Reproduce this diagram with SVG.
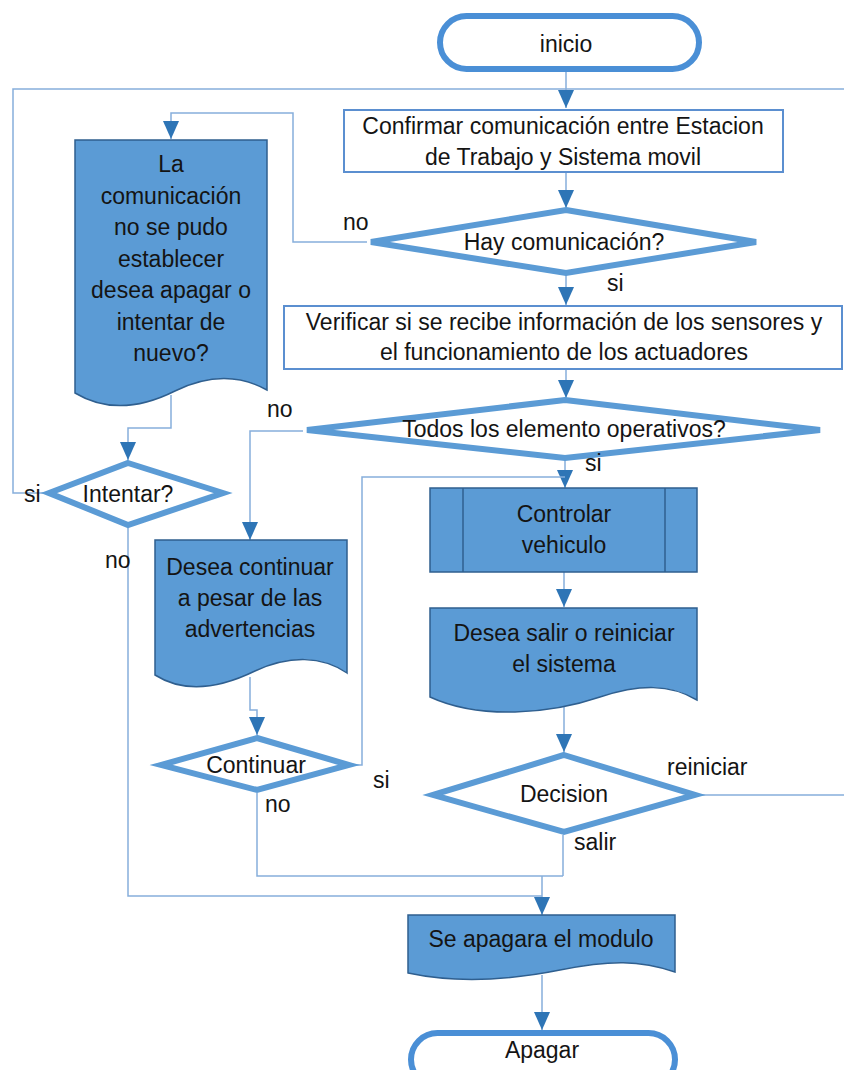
<svg xmlns="http://www.w3.org/2000/svg" width="844" height="1070" viewBox="0 0 844 1070">
  <defs>
    <marker id="arrow" markerUnits="userSpaceOnUse" markerWidth="18" markerHeight="16" viewBox="0 0 18 16" refX="18" refY="8" orient="auto">
      <path d="M0,0 L18,8 L0,16 Z" fill="#2e75b6"/>
    </marker>
    <style>
      text { font-family: "Liberation Sans", Arial, sans-serif; font-size: 23px; fill: #141414; text-anchor: middle; }
      text.lbl { text-anchor: start; }
      .term { fill: #ffffff; stroke: #4a8fd6; stroke-width: 6; }
      .proc { fill: #ffffff; stroke: #5b8fd0; stroke-width: 2; }
      .dec { fill: #ffffff; stroke: #5b9bd5; stroke-width: 6; stroke-linejoin: miter; }
      .doc { fill: #5b9bd5; stroke: #2f5f8f; stroke-width: 1.5; }
      .sub { fill: #5b9bd5; stroke: #2f5f8f; stroke-width: 1.5; }
      .conn { fill: none; stroke: #86aedb; stroke-width: 1.5; }
      .conn.end { marker-end: url(#arrow); }
    </style>
  </defs>

  <rect width="844" height="1070" fill="#ffffff"/>

  <!-- connectors -->
  <g id="connectors">
    <path class="conn end" d="M566,72 V108"/>
    <path class="conn end" d="M566,173 V208"/>
    <path class="conn end" d="M566,275 V305"/>
    <path class="conn end" d="M566,370 V398"/>
    <path class="conn end" d="M565,460 V488"/>
    <path class="conn end" d="M564,572 V607"/>
    <path class="conn end" d="M564,705 V752"/>
    <!-- Hay comunicación? : no -->
    <path class="conn end" d="M367,242 H293 V113 H171 V139"/>
    <!-- message -> Intentar? -->
    <path class="conn end" d="M171,395 V428 H128 V460"/>
    <!-- Intentar? : si, back to the top -->
    <path class="conn" d="M45,493 H13 V89 H845"/>
    <!-- Decision : reiniciar -->
    <path class="conn" d="M699,795 H845 V89"/>
    <!-- Todos los elemento operativos? : no -->
    <path class="conn end" d="M303,431 H250 V540"/>
    <!-- warning -> Continuar -->
    <path class="conn end" d="M250,677 V710 H257 V735"/>
    <!-- Continuar : si -->
    <path class="conn" d="M353,765 H362 V477 H565"/>
    <!-- Continuar : no -->
    <path class="conn" d="M257,793 V876 H563"/>
    <!-- Decision : salir -->
    <path class="conn" d="M563,835 V876"/>
    <path class="conn end" d="M542,876 V915"/>
    <!-- Intentar? : no -->
    <path class="conn" d="M128,528 V896 H542"/>
    <path class="conn end" d="M542,975 V1030"/>
  </g>

  <g id="inicio">
    <rect class="term" x="440" y="16" width="259" height="53" rx="26.5"/>
    <text x="566" y="52">inicio</text>
  </g>

  <g id="confirmar">
    <rect class="proc" x="344" y="110" width="439" height="62"/>
    <text x="563" y="134">Confirmar comunicación entre Estacion</text>
    <text x="563" y="165">de Trabajo y Sistema movil</text>
  </g>

  <g id="hay-comunicacion">
    <polygon class="dec" points="566,210 756,242 566,273 371,242"/>
    <text x="564" y="250">Hay comunicación?</text>
    <text class="lbl" x="343" y="230">no</text>
    <text class="lbl" x="607" y="291">si</text>
  </g>

  <g id="mensaje-comunicacion">
    <path class="doc" d="M75,140 H267 V390 C240,375 210,374 175,391 C145,406 110,414 75,393 Z"/>
    <text x="171" y="172">La</text>
    <text x="171" y="203.5">comunicación</text>
    <text x="171" y="235">no se pudo</text>
    <text x="171" y="266.5">establecer</text>
    <text x="171" y="298">desea apagar o</text>
    <text x="171" y="329.5">intentar de</text>
    <text x="171" y="361">nuevo?</text>
  </g>

  <g id="verificar">
    <rect class="proc" x="284" y="306" width="558" height="63"/>
    <text x="564" y="330">Verificar si se recibe información de los sensores y</text>
    <text x="564" y="360">el funcionamiento de los actuadores</text>
  </g>

  <g id="todos-operativos">
    <polygon class="dec" points="565,400 820,430 565,458 307,430"/>
    <text x="564" y="437">Todos los elemento operativos?</text>
    <text class="lbl" x="267" y="417">no</text>
    <text class="lbl" x="585" y="471">si</text>
  </g>

  <g id="intentar">
    <polygon class="dec" points="128,463 223,493 128,525 49,493"/>
    <text x="128" y="502">Intentar?</text>
    <text class="lbl" x="24" y="502">si</text>
    <text class="lbl" x="105" y="568">no</text>
  </g>

  <g id="controlar">
    <rect class="sub" x="430" y="488" width="267" height="84"/>
    <line x1="463" y1="488" x2="463" y2="572" stroke="#2f5f8f" stroke-width="1.5"/>
    <line x1="665" y1="488" x2="665" y2="572" stroke="#2f5f8f" stroke-width="1.5"/>
    <text x="564" y="522">Controlar</text>
    <text x="564" y="553">vehiculo</text>
  </g>

  <g id="desea-continuar">
    <path class="doc" d="M155,540 H347 V673 C322,656 290,655 255,671 C220,688 185,694 155,675 Z"/>
    <text x="250" y="575">Desea continuar</text>
    <text x="250" y="606">a pesar de las</text>
    <text x="250" y="637">advertencias</text>
  </g>

  <g id="desea-salir">
    <path class="doc" d="M430,608 H697 V700 C670,684 640,684 600,697 C550,714 480,720 430,697 Z"/>
    <text x="564" y="641">Desea salir o reiniciar</text>
    <text x="564" y="672">el sistema</text>
  </g>

  <g id="continuar">
    <polygon class="dec" points="257,738 349,765 257,790 161,765"/>
    <text x="256" y="773">Continuar</text>
    <text class="lbl" x="373" y="788">si</text>
    <text class="lbl" x="265" y="812">no</text>
  </g>

  <g id="decision">
    <polygon class="dec" points="564,755 695,795 564,832 433,795"/>
    <text x="564" y="802">Decision</text>
    <text class="lbl" x="667" y="775">reiniciar</text>
    <text class="lbl" x="574" y="850">salir</text>
  </g>

  <g id="apagar-modulo">
    <path class="doc" d="M408,915 H675 V972 C640,960 610,960 560,970 C500,982 450,982 408,973 Z"/>
    <text x="541" y="947">Se apagara el modulo</text>
  </g>

  <g id="apagar">
    <rect class="term" x="411" y="1033" width="264" height="53" rx="26.5"/>
    <text x="542" y="1058">Apagar</text>
  </g>
</svg>
